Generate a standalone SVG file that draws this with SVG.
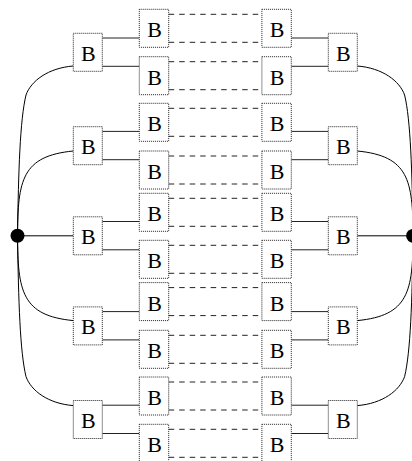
<svg xmlns="http://www.w3.org/2000/svg" width="412" height="461" viewBox="0 0 412 461">
<style>
.b{fill:#fff;stroke:#222;stroke-width:1;stroke-dasharray:1 1}
.t{font-family:"Liberation Serif","Times New Roman",serif;font-size:22px;text-anchor:middle;fill:#000}
.c{fill:none;stroke:#000;stroke-width:1}
.s{fill:none;stroke:#222;stroke-width:1}
.d{fill:none;stroke:#222;stroke-width:1;stroke-dasharray:5.5 5}
</style>
<rect width="412" height="461" fill="#fff"/>
<g id="connectors">
<path class="c" d="M17.5,235.8 C18.5,170 20,120 26,95 C31,81 48,68 73.3,66"/>
<path class="c" d="M17.5,235.8 C17.8,180 22,156 73.3,151"/>
<path class="c" d="M17.5,235.8 H73.3"/>
<path class="c" d="M17.5,235.8 C17.8,291.6 22,315.6 73.3,320.6"/>
<path class="c" d="M17.5,235.8 C18.5,301.6 20,351.6 26,376.6 C31,390.6 48,403.6 73.3,405.6"/>
<path class="c" d="M413.1,235.8 C412.1,170 410.6,120 404.6,95 C399.6,81 382.6,68 357.3,66"/>
<path class="c" d="M413.1,235.8 C412.8,180 408.6,156 357.3,151"/>
<path class="c" d="M413.1,235.8 H357.3"/>
<path class="c" d="M413.1,235.8 C412.8,291.6 408.6,315.6 357.3,320.6"/>
<path class="c" d="M413.1,235.8 C412.1,301.6 410.6,351.6 404.6,376.6 C399.6,390.6 382.6,403.6 357.3,405.6"/>
<path class="s" d="M102.3,38H139.3M102.3,66.3H139.3M102.3,131.4H139.3M102.3,159.7H139.3M102.3,221.5H139.3M102.3,249.8H139.3M102.3,311.6H139.3M102.3,339.9H139.3M102.3,405.2H139.3M102.3,433.5H139.3"/>
<path class="s" d="M291.3,38H328.3M291.3,66.3H328.3M291.3,131.4H328.3M291.3,159.7H328.3M291.3,221.5H328.3M291.3,249.8H328.3M291.3,311.6H328.3M291.3,339.9H328.3M291.3,405.2H328.3M291.3,433.5H328.3"/>
<path class="d" d="M168.7,14.3H261.9M168.7,42.3H261.9M168.7,61.7H261.9M168.7,89.7H261.9M168.7,108.3H261.9M168.7,136.3H261.9M168.7,156H261.9M168.7,184H261.9M168.7,198.3H261.9M168.7,226.3H261.9M168.7,245.3H261.9M168.7,273.3H261.9M168.7,287.6H261.9M168.7,315.6H261.9M168.7,335.3H261.9M168.7,363.3H261.9M168.7,382H261.9M168.7,410H261.9M168.7,429.3H261.9M168.7,457.3H261.9"/>
</g>
<g id="dotL"><circle cx="17.5" cy="235.8" r="7" fill="#000"/></g>
<g id="dotR"><circle cx="413.1" cy="235.8" r="7" fill="#000"/></g>
<g id="L1a"><rect class="b" x="73.3" y="33.3" width="29" height="38"/><text class="t" x="88.3" y="60.8">B</text></g>
<g id="L1b"><rect class="b" x="73.3" y="126.7" width="29" height="38"/><text class="t" x="88.3" y="154.2">B</text></g>
<g id="L1c"><rect class="b" x="73.3" y="216.8" width="29" height="38"/><text class="t" x="88.3" y="244.3">B</text></g>
<g id="L1d"><rect class="b" x="73.3" y="306.9" width="29" height="38"/><text class="t" x="88.3" y="334.4">B</text></g>
<g id="L1e"><rect class="b" x="73.3" y="400.5" width="29" height="38"/><text class="t" x="88.3" y="428">B</text></g>
<g id="L2a"><rect class="b" x="139.3" y="9.3" width="29.4" height="38"/><text class="t" x="154.5" y="37.3">B</text></g>
<g id="L2b"><rect class="b" x="139.3" y="56.7" width="29.4" height="38"/><text class="t" x="154.5" y="84.7">B</text></g>
<g id="L2c"><rect class="b" x="139.3" y="103.3" width="29.4" height="38"/><text class="t" x="154.5" y="131.3">B</text></g>
<g id="L2d"><rect class="b" x="139.3" y="151" width="29.4" height="38"/><text class="t" x="154.5" y="179">B</text></g>
<g id="L2e"><rect class="b" x="139.3" y="193.3" width="29.4" height="38"/><text class="t" x="154.5" y="221.3">B</text></g>
<g id="L2f"><rect class="b" x="139.3" y="240.3" width="29.4" height="38"/><text class="t" x="154.5" y="268.3">B</text></g>
<g id="L2g"><rect class="b" x="139.3" y="282.6" width="29.4" height="38"/><text class="t" x="154.5" y="310.6">B</text></g>
<g id="L2h"><rect class="b" x="139.3" y="330.3" width="29.4" height="38"/><text class="t" x="154.5" y="358.3">B</text></g>
<g id="L2i"><rect class="b" x="139.3" y="377" width="29.4" height="38"/><text class="t" x="154.5" y="405">B</text></g>
<g id="L2j"><rect class="b" x="139.3" y="424.3" width="29.4" height="38"/><text class="t" x="154.5" y="452.3">B</text></g>
<g id="R2a"><rect class="b" x="261.9" y="9.3" width="29.4" height="38"/><text class="t" x="277.1" y="37.3">B</text></g>
<g id="R2b"><rect class="b" x="261.9" y="56.7" width="29.4" height="38"/><text class="t" x="277.1" y="84.7">B</text></g>
<g id="R2c"><rect class="b" x="261.9" y="103.3" width="29.4" height="38"/><text class="t" x="277.1" y="131.3">B</text></g>
<g id="R2d"><rect class="b" x="261.9" y="151" width="29.4" height="38"/><text class="t" x="277.1" y="179">B</text></g>
<g id="R2e"><rect class="b" x="261.9" y="193.3" width="29.4" height="38"/><text class="t" x="277.1" y="221.3">B</text></g>
<g id="R2f"><rect class="b" x="261.9" y="240.3" width="29.4" height="38"/><text class="t" x="277.1" y="268.3">B</text></g>
<g id="R2g"><rect class="b" x="261.9" y="282.6" width="29.4" height="38"/><text class="t" x="277.1" y="310.6">B</text></g>
<g id="R2h"><rect class="b" x="261.9" y="330.3" width="29.4" height="38"/><text class="t" x="277.1" y="358.3">B</text></g>
<g id="R2i"><rect class="b" x="261.9" y="377" width="29.4" height="38"/><text class="t" x="277.1" y="405">B</text></g>
<g id="R2j"><rect class="b" x="261.9" y="424.3" width="29.4" height="38"/><text class="t" x="277.1" y="452.3">B</text></g>
<g id="R1a"><rect class="b" x="328.3" y="33.3" width="29" height="38"/><text class="t" x="343.3" y="60.8">B</text></g>
<g id="R1b"><rect class="b" x="328.3" y="126.7" width="29" height="38"/><text class="t" x="343.3" y="154.2">B</text></g>
<g id="R1c"><rect class="b" x="328.3" y="216.8" width="29" height="38"/><text class="t" x="343.3" y="244.3">B</text></g>
<g id="R1d"><rect class="b" x="328.3" y="306.9" width="29" height="38"/><text class="t" x="343.3" y="334.4">B</text></g>
<g id="R1e"><rect class="b" x="328.3" y="400.5" width="29" height="38"/><text class="t" x="343.3" y="428">B</text></g>
</svg>
